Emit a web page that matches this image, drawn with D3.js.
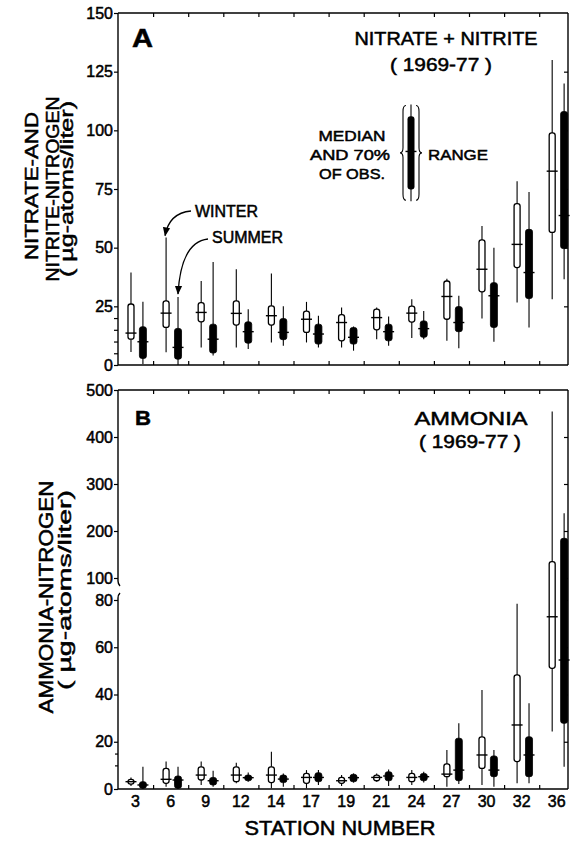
<!DOCTYPE html>
<html><head><meta charset="utf-8">
<script src="https://cdn.jsdelivr.net/npm/d3@7"></script>
<style>
body{margin:0;background:#fff}
svg text{font-family:"Liberation Sans",Arial,sans-serif;fill:#000;stroke:#000;stroke-width:0.5}
</style>
</head><body>
<svg id="c" width="570" height="844"></svg>
<script>
// ---------- DATA ----------
const stations = ["3","6","9","12","14","17","19","21","24","27","30","32","36"];

// Panel A: nitrate + nitrite (µg-atoms/liter)
const aWinterMin = [5.5, 5.4, 7.5, 7.5, 9.6, 9.6, 7.5, 11, 11.5, 10.3, 19.8, 26.6, 28];
const aWinterQ1  = [11, 16, 18.4, 17, 17, 13.9, 10.3, 15, 18.3, 19.5, 31.2, 41.5, 56.5];
const aWinterMed = [13.6, 22.1, 22.4, 22, 21, 19.5, 18.1, 20.2, 22.1, 29.2, 40.8, 51.4, 82.6];
const aWinterQ3  = [26, 27.3, 26.6, 27.3, 25.2, 23, 21.5, 23.8, 25.1, 35.8, 53.3, 68.8, 98.9];
const aWinterMax = [39.4, 54.3, 35.8, 40.8, 39, 26.9, 24.5, 24.5, 28, 36.8, 59.2, 78.3, 130];

const aSummerMin = [0.4, 0, 4, 6.8, 8.2, 7.5, 6.1, 8.2, 11, 7.1, 9.9, 16, 36.5];
const aSummerQ1  = [2.8, 2.5, 5.1, 9.3, 10.8, 8.9, 8.9, 10.3, 11.8, 14.2, 16, 28.3, 49.6];
const aSummerMed = [9.9, 7.5, 11, 14.2, 13.9, 13.2, 11.8, 14.2, 15.5, 18.1, 29.5, 39.4, 63.7];
const aSummerQ3  = [16.3, 15.6, 17.4, 18.4, 19.8, 17.4, 16, 17.4, 18.8, 24.9, 35.1, 57.8, 108];
const aSummerMax = [27, 29, 43.9, 23.8, 25, 21, 16.4, 20.7, 23, 29.5, 50, 73.7, 120];

// Panel B: ammonia (µg-atoms/liter)
const bWinterMin = [1.3, 1, 1.7, 2.4, 0.3, 0.3, 1.3, 3.1, 1.7, 1, 1.7, 2.4, 24.3];
const bWinterQ1  = [2.1, 2.4, 3.8, 3.1, 2.7, 2.4, 2.4, 3.5, 3.1, 5.2, 8.7, 11.6, 51.1];
const bWinterMed = [3.1, 4.1, 5.9, 5.9, 5.9, 4.9, 3.5, 4.9, 4.9, 6.3, 14.4, 27.1, 72.9];
const bWinterQ3  = [4.1, 8.7, 9.4, 9.4, 9.4, 6.6, 4.9, 5.9, 6.6, 10.6, 22.1, 48.3, 135];
const bWinterMax = [4.9, 11.6, 11.6, 11.1, 15.8, 8, 5.9, 6.6, 8, 16.5, 41.9, 78.4, 454];

const bSummerMin = [0, 0, 1, 3.1, 1, 1.7, 2.7, 1.3, 2.7, 2.1, 1, 2.4, 9.4];
const bSummerQ1  = [0.3, 0.3, 1.7, 3.5, 2.7, 3.1, 3.1, 3.5, 3.5, 3.5, 5.2, 5.2, 27.8];
const bSummerMed = [1.7, 3.8, 3.5, 4.8, 4.2, 4.9, 4.8, 5.5, 5.2, 8, 8, 14.4, 54.6];
const bSummerQ3  = [3.1, 5.5, 4.9, 5.9, 5.9, 6.9, 6.2, 7.3, 6.6, 21.5, 14, 22.1, 184.5];
const bSummerMax = [9.4, 9.4, 7.7, 7, 6.6, 8, 6.6, 8.3, 7.3, 27.8, 16.5, 36.3, 237.7];

// Axis ticks
const aTicks = [0, 25, 50, 75, 100, 125, 150];
const aMinor = [5, 10, 15, 20];
const bTicksLow = [0, 20, 40, 60, 80];
const bTicksHigh = [100, 200, 300, 400, 500];
const bMinor = [10, 15];

// Legend (in panel A units)
const legendRange = [69.8, 111];
const legendBox = [74.8, 106];
const legendMed = 91;

// ---------- LAYOUT ----------
const svg = d3.select("#c");
const L = 118, R = 568;
const x = d3.scaleBand().domain(stations).range([L, 574.3]).padding(0);
const bw = x.bandwidth();
const xb = d3.scaleLinear().domain([0, stations.length]).range([L, 574.3]);
const wOff = 0.37 * bw, sOff = 0.71 * bw;

const yA = d3.scaleLinear().domain([0, 150]).range([365, 13]);
const yB = d3.scaleLinear().domain([0, 80, 100, 500]).range([789, 600, 578, 390]);

// ---------- FRAMES ----------
function frame(top, bottom, broken) {
  const g = svg.append("g").attr("fill", "none").attr("stroke", "#000").attr("stroke-width", 1.4);
  g.append("line").attr("x1", L).attr("x2", R).attr("y1", top).attr("y2", top);
  g.append("line").attr("x1", L).attr("x2", R).attr("y1", bottom).attr("y2", bottom);
  g.append("line").attr("x1", R).attr("x2", R).attr("y1", top).attr("y2", bottom);
  if (!broken) {
    g.append("line").attr("x1", L).attr("x2", L).attr("y1", top).attr("y2", bottom);
  } else {
    const y100 = yB(100), y80 = yB(80);
    g.append("path").attr("d", `M${L},${top}L${L},${y100 + 3}q0,3 2,5`);
    g.append("path").attr("d", `M${L + 2},${y80 - 7}q-2,2 -2,5L${L},${bottom}`);
  }
}
frame(yA(150), yA(0), false);
frame(yB(500), yB(0), true);

// ---------- AXES ----------
function styleAxis(g) {
  g.select(".domain").remove();
  g.selectAll(".tick line").attr("stroke", "#000").attr("stroke-width", 1.2);
}
// Panel A left
svg.append("g").attr("transform", `translate(${L},0)`)
  .call(d3.axisLeft(yA).tickValues(aTicks).tickSize(4).tickPadding(1))
  .call(styleAxis)
  .call(g => g.selectAll("text").style("font-size", "16px"));
svg.append("g").attr("transform", `translate(${L},0)`)
  .call(d3.axisLeft(yA).tickValues(aMinor).tickSize(4).tickFormat(""))
  .call(styleAxis);
svg.append("g").attr("transform", `translate(${R},0)`)
  .call(d3.axisLeft(yA).tickValues(aTicks.slice(1, -1)).tickSize(4).tickFormat(""))
  .call(styleAxis);
// Panel B left
svg.append("g").attr("transform", `translate(${L},0)`)
  .call(d3.axisLeft(yB).tickValues(bTicksLow.concat(bTicksHigh)).tickSize(4).tickPadding(1))
  .call(styleAxis)
  .call(g => g.selectAll("text").style("font-size", "16px"));
svg.append("g").attr("transform", `translate(${L},0)`)
  .call(d3.axisLeft(yB).tickValues(bMinor).tickSize(3).tickFormat(""))
  .call(styleAxis);
svg.append("g").attr("transform", `translate(${R},0)`)
  .call(d3.axisLeft(yB).tickValues(bTicksLow.slice(1).concat(bTicksHigh.slice(0, -1))).tickSize(4).tickFormat(""))
  .call(styleAxis);

// Band boundary ticks (top & bottom of each panel, inward)
const bounds = d3.range(1, stations.length);
[[yA(150), yA(0)], [yB(500), yB(0)]].forEach(([t, b]) => {
  svg.append("g").attr("transform", `translate(0,${t})`)
    .call(d3.axisBottom(xb).tickValues(bounds).tickSize(4).tickFormat("")).call(styleAxis);
  svg.append("g").attr("transform", `translate(0,${b})`)
    .call(d3.axisTop(xb).tickValues(bounds).tickSize(4).tickFormat("")).call(styleAxis);
});

// Station labels
svg.append("g").attr("transform", `translate(0,${yB(0)})`)
  .call(d3.axisBottom(x).tickSize(0).tickPadding(0))
  .call(g => g.select(".domain").remove())
  .call(g => g.selectAll("text").attr("y", 18).attr("dy", 0).style("font-size", "16px"));

// ---------- BOXES ----------
function boxes(y, mins, q1, med, q3, maxs, off, filled) {
  const g = svg.append("g");
  const w = filled ? 7 : 6;
  stations.forEach((s, i) => {
    const cx = x(s) + off;
    g.append("line").attr("x1", cx).attr("x2", cx).attr("y1", y(mins[i])).attr("y2", y(maxs[i]))
      .attr("stroke", "#000").attr("stroke-width", 1.1);
    g.append("rect").attr("x", cx - w / 2).attr("width", w)
      .attr("y", y(q3[i])).attr("height", Math.max(1, y(q1[i]) - y(q3[i])))
      .attr("rx", 2.5).attr("ry", 2.5)
      .attr("fill", filled ? "#000" : "#fff").attr("stroke", "#000").attr("stroke-width", filled ? 0.8 : 1.3);
    g.append("line").attr("x1", cx - 5.5).attr("x2", cx + 5.5).attr("y1", y(med[i])).attr("y2", y(med[i]))
      .attr("stroke", "#000").attr("stroke-width", 1.4);
  });
}
boxes(yA, aWinterMin, aWinterQ1, aWinterMed, aWinterQ3, aWinterMax, wOff, false);
boxes(yA, aSummerMin, aSummerQ1, aSummerMed, aSummerQ3, aSummerMax, sOff, true);
boxes(yB, bWinterMin, bWinterQ1, bWinterMed, bWinterQ3, bWinterMax, wOff, false);
boxes(yB, bSummerMin, bSummerQ1, bSummerMed, bSummerQ3, bSummerMax, sOff, true);

// ---------- TEXT ----------
function txt(t, px, py, size, opts = {}) {
  const e = svg.append("text").attr("x", px).attr("y", py).style("font-size", size + "px").text(t);
  if (opts.anchor) e.attr("text-anchor", opts.anchor);
  if (opts.len) e.attr("textLength", opts.len).attr("lengthAdjust", "spacingAndGlyphs");
  if (opts.bold) e.style("font-weight", "bold");
  if (opts.rot) e.attr("transform", `rotate(-90,${px},${py})`);
  return e;
}
// panel letters
txt("A", 132, 47, 26, {bold: true, len: 21});
txt("B", 135, 425, 21, {bold: true, len: 16});

// panel titles
txt("NITRATE + NITRITE", 446, 45, 18, {anchor: "middle", len: 183});
txt("( 1969-77 )", 441, 71, 18, {anchor: "middle", len: 102});
txt("AMMONIA", 471, 425, 18, {anchor: "middle", len: 113});
txt("( 1969-77 )", 470, 448, 18, {anchor: "middle", len: 102});

// y titles
txt("NITRATE-AND", 38, 186, 19, {anchor: "middle", len: 148, rot: true});
txt("NITRITE-NITROGEN", 58.5, 189, 19, {anchor: "middle", len: 185, rot: true});
txt("( µg-atoms/liter)", 73, 189, 18, {anchor: "middle", len: 176, rot: true});
txt("AMMONIA-NITROGEN", 53, 597, 20, {anchor: "middle", len: 233, rot: true});
txt("( µg-atoms/liter)", 71, 590, 19, {anchor: "middle", len: 200, rot: true});

// x title
txt("STATION NUMBER", 340, 835, 20, {anchor: "middle", len: 191});

// legend
const lx = 411;
const lg = svg.append("g");
lg.append("line").attr("x1", lx).attr("x2", lx).attr("y1", yA(legendRange[0])).attr("y2", yA(legendRange[1]))
  .attr("stroke", "#000").attr("stroke-width", 1.1);
lg.append("rect").attr("x", lx - 3.5).attr("width", 7).attr("y", yA(legendBox[1]))
  .attr("height", yA(legendBox[0]) - yA(legendBox[1])).attr("rx", 3).attr("fill", "#000");
lg.append("line").attr("x1", lx - 5.5).attr("x2", lx + 5.5).attr("y1", yA(legendMed)).attr("y2", yA(legendMed))
  .attr("stroke", "#000").attr("stroke-width", 1.4);
function brace(xEdge, xTip, t, b) {
  const c = (t + b) / 2, xm = (xEdge + xTip) / 2;
  return `M${xEdge},${t}Q${xm},${t} ${xm},${t + 6}L${xm},${c - 5}Q${xm},${c} ${xTip},${c}` +
         `Q${xm},${c} ${xm},${c + 5}L${xm},${b - 6}Q${xm},${b} ${xEdge},${b}`;
}
lg.append("path").attr("d", brace(406, 400, yA(legendRange[1]) + 1, yA(legendRange[0]) - 1))
  .attr("fill", "none").attr("stroke", "#000").attr("stroke-width", 1.1);
lg.append("path").attr("d", brace(416, 422, yA(legendRange[1]) + 1, yA(legendRange[0]) - 1))
  .attr("fill", "none").attr("stroke", "#000").attr("stroke-width", 1.1);
txt("MEDIAN", 352, 141, 15, {anchor: "middle", len: 67});
txt("AND 70%", 350, 160, 15, {anchor: "middle", len: 80});
txt("OF OBS.", 352, 179, 15, {anchor: "middle", len: 66});
txt("RANGE", 428, 160, 15, {len: 60});

// season annotations
txt("WINTER", 195, 217, 16, {len: 63});
txt("SUMMER", 212, 243, 16, {len: 71});
const defs = svg.append("defs");
defs.append("marker").attr("id", "ah").attr("viewBox", "0 0 10 10").attr("refX", 9).attr("refY", 5)
  .attr("markerWidth", 7).attr("markerHeight", 7).attr("orient", "auto-start-reverse")
  .append("path").attr("d", "M0,1L10,5L0,9Z").attr("fill", "#000");
const winterTip = [x("6") + wOff - 1, yA(aWinterMax[1]) - 2];
const summerTip = [x("6") + sOff, yA(aSummerMax[1]) - 3];
svg.append("path").attr("d", `M191,211Q${winterTip[0] + 4},213 ${winterTip[0]},${winterTip[1]}`)
  .attr("fill", "none").attr("stroke", "#000").attr("stroke-width", 1.3).attr("marker-end", "url(#ah)");
svg.append("path").attr("d", `M208,239Q${summerTip[0] + 3},242 ${summerTip[0]},${summerTip[1]}`)
  .attr("fill", "none").attr("stroke", "#000").attr("stroke-width", 1.3).attr("marker-end", "url(#ah)");
</script>
</body></html>
